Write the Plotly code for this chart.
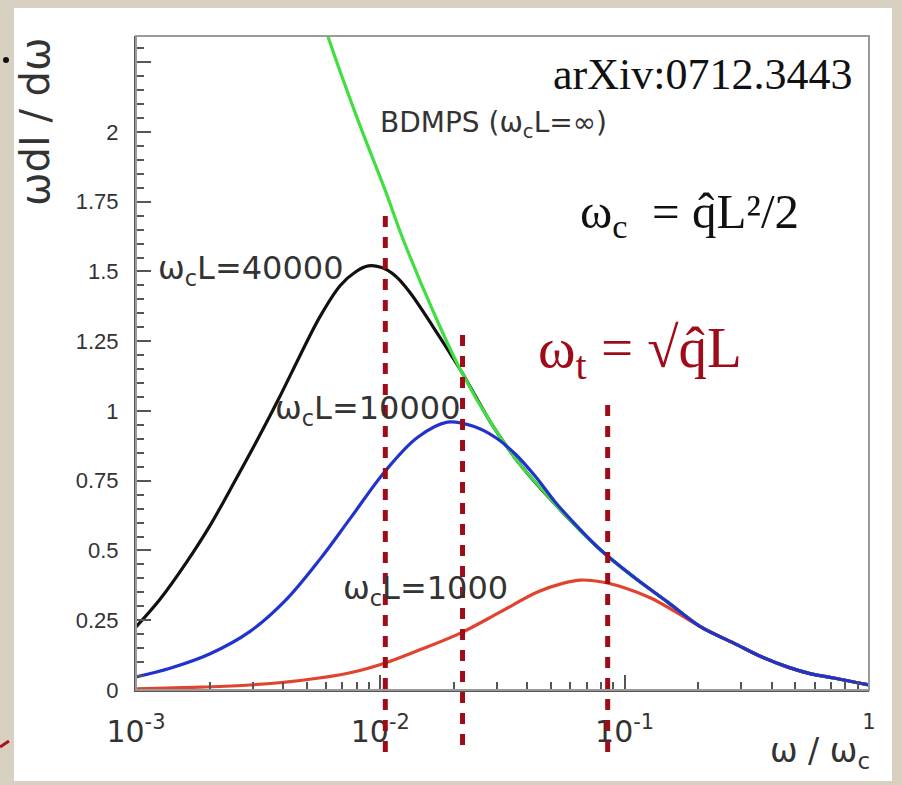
import plotly.graph_objects as go

# ---------------- data: omega/omega_c and omega dI/domega ----------------
x_bdmps = [0.006007, 0.006857, 0.008279, 0.01048, 0.01242, 0.01649, 0.02128, 0.02904,
           0.03748, 0.04525, 0.05465, 0.07973, 0.1089, 0.15, 0.2049, 0.2797, 0.3609,
           0.4656, 0.5785, 0.7188, 1.0]
y_bdmps = [2.36, 2.215, 2.02, 1.79, 1.613, 1.355, 1.147, 0.943,
           0.806, 0.725, 0.645, 0.502, 0.405, 0.315, 0.226, 0.168, 0.12,
           0.082, 0.058, 0.043, 0.018]

x_40000 = [0.001, 0.001254, 0.001588, 0.002011, 0.002544, 0.003131, 0.003819, 0.004699,
           0.005677, 0.006857, 0.007963, 0.008929, 0.01005, 0.01150, 0.01322, 0.01649,
           0.02128, 0.02904, 0.03748, 0.05465, 0.07973, 0.1089, 0.15, 0.2049, 0.2797,
           0.3609, 0.4656, 0.5785, 0.7188, 1.0]
y_40000 = [0.226, 0.325, 0.45, 0.59, 0.75, 0.895, 1.04, 1.20,
           1.34, 1.45, 1.50, 1.52, 1.515, 1.485, 1.425, 1.30,
           1.147, 0.943, 0.806, 0.645, 0.502, 0.405, 0.315, 0.226, 0.168,
           0.12, 0.082, 0.058, 0.043, 0.018]

x_10000 = [0.001, 0.001378, 0.002011, 0.002932, 0.00408, 0.005677, 0.007533, 0.01048,
           0.01418, 0.01881, 0.02405, 0.0296, 0.03575, 0.04316, 0.05214, 0.06297,
           0.07973, 0.1089, 0.15, 0.2049, 0.2797, 0.3609, 0.4656, 0.5785, 0.7188, 1.0]
y_10000 = [0.047, 0.078, 0.13, 0.21, 0.32, 0.47, 0.615, 0.785,
           0.905, 0.96, 0.945, 0.905, 0.845, 0.765, 0.672, 0.593,
           0.502, 0.405, 0.315, 0.226, 0.168, 0.12, 0.082, 0.058, 0.043, 0.018]

x_1000 = [0.001, 0.00183, 0.002932, 0.004699, 0.007533, 0.01048, 0.01459, 0.02128,
          0.03102, 0.04398, 0.05621, 0.06604, 0.07973, 0.101, 0.1278, 0.1618, 0.2049,
          0.2797, 0.3609, 0.4656, 0.5785, 0.7188, 1.0]
y_1000 = [0.004, 0.010, 0.018, 0.034, 0.062, 0.097, 0.145, 0.204,
          0.28, 0.351, 0.383, 0.394, 0.388, 0.365, 0.33, 0.28, 0.226,
          0.168, 0.12, 0.082, 0.058, 0.043, 0.018]

# omega_t markers: position, top and bottom end (in omega dI/domega units)
marker_x = [0.01048, 0.0217, 0.0852]
marker_top = [1.727, 1.29, 1.04]
marker_bottom = [-0.222, -0.197, -0.222]

y_major = [0, 0.25, 0.5, 0.75, 1, 1.25, 1.5, 1.75, 2, 2.25]
y_major_text = ["0", "0.25", "0.5", "0.75", "1", "1.25", "1.5", "1.75", "2", ""]
x_major = [0.001, 0.01, 0.1, 1]
x_major_text = ["10<sup>-3</sup>", "10<sup>-2</sup>", "10<sup>-1</sup>", "<sup>1</sup>"]

Y_MAX = 2.344

# ---------------- layout geometry (pixels) ----------------
W, H = 902, 785
L, R, T, B = 136, 869, 36, 690
PW, PH = R - L, B - T


def px(xpix):
    return (xpix - L) / PW


def py(ypix):
    return (B - ypix) / PH


ROOT_FONT = "DejaVu Sans"
SERIF = "Liberation Serif"
TXT = "#333333"
DARK_RED = "#9e0b19"
NB = "\u00a0"

fig = go.Figure()

curves = [
    (x_40000, y_40000, "#111111", "ω<sub>c</sub>L=40000"),
    (x_bdmps, y_bdmps, "#40de40", "BDMPS"),
    (x_1000, y_1000, "#e0442e", "ω<sub>c</sub>L=1000"),
    (x_10000, y_10000, "#2233cc", "ω<sub>c</sub>L=10000"),
]
for xs, ys, col, name in curves:
    fig.add_trace(go.Scatter(x=xs, y=ys, mode="lines", name=name,
                             line=dict(color=col, width=3.2, shape="spline", smoothing=1.0),
                             showlegend=False, hoverinfo="skip"))

shapes = []
# white slide panel
shapes.append(dict(type="rect", xref="paper", yref="paper", x0=px(14), x1=px(892),
                   y0=py(781), y1=py(8), fillcolor="white", line=dict(width=0),
                   layer="below"))
# frame
shapes.append(dict(type="rect", xref="paper", yref="paper", x0=0, x1=1, y0=0, y1=1,
                   line=dict(color="#9a9a9a", width=2), layer="above"))
# omega_t dashed markers (extend below the axis)
for xv, top, bot in zip(marker_x, marker_top, marker_bottom):
    shapes.append(dict(type="line", xref="x", yref="y domain",
                       x0=xv, x1=xv, y0=bot / Y_MAX, y1=top / Y_MAX,
                       line=dict(color=DARK_RED, width=5, dash="11px,10px"),
                       layer="above"))
# bits of neighbouring slide text at the left edge
shapes.append(dict(type="circle", xref="paper", yref="paper",
                   x0=px(3), x1=px(9), y0=py(63), y1=py(57),
                   fillcolor="#111111", line=dict(width=0)))
shapes.append(dict(type="line", xref="paper", yref="paper",
                   x0=px(0), x1=px(9), y0=py(747), y1=py(741),
                   line=dict(color="#b01020", width=3)))

annotations = [
    dict(text="arXiv:0712.3443", x=px(854), y=py(75), xanchor="right", yanchor="middle",
         font=dict(family=SERIF, size=44, color="#111111")),
    dict(text=f"ω<sub>c</sub>{NB}{NB}={NB}q̂L²/2", x=px(578), y=py(215), xanchor="left",
         yanchor="middle", font=dict(family=SERIF, size=49, color="#111111")),
    dict(text=f"ω<sub>t</sub>{NB}={NB}√q̂L", x=px(536), y=py(352), xanchor="left",
         yanchor="middle", font=dict(family=SERIF, size=57, color=DARK_RED)),
    dict(text="BDMPS (ω<sub>c</sub>L=∞)", x=px(378), y=py(124), xanchor="left",
         yanchor="middle", font=dict(family=ROOT_FONT, size=28, color=TXT)),
    dict(text="ω<sub>c</sub>L=40000", x=px(156), y=py(270), xanchor="left",
         yanchor="middle", font=dict(family=ROOT_FONT, size=32, color=TXT)),
    dict(text="ω<sub>c</sub>L=10000", x=px(273), y=py(410), xanchor="left",
         yanchor="middle", font=dict(family=ROOT_FONT, size=32, color=TXT)),
    dict(text="ω<sub>c</sub>L=1000", x=px(341), y=py(590), xanchor="left",
         yanchor="middle", font=dict(family=ROOT_FONT, size=32, color=TXT)),
    dict(text="ω / ω<sub>c</sub>", x=px(872), y=py(752), xanchor="right",
         yanchor="middle", font=dict(family=ROOT_FONT, size=33, color=TXT)),
    dict(text="ωdI / dω", x=px(35), y=py(122), xanchor="center", yanchor="middle",
         textangle=-90, font=dict(family=ROOT_FONT, size=40, color=TXT)),
]
for a in annotations:
    a.update(xref="paper", yref="paper", showarrow=False)

minor_x = [k * 10 ** e for e in (-3, -2, -1) for k in range(2, 10)]

fig.update_layout(
    width=W, height=H,
    margin=dict(l=L, r=W - R, t=T, b=H - B, pad=0),
    paper_bgcolor="#d8d1c2",
    plot_bgcolor="white",
    shapes=shapes,
    annotations=annotations,
    xaxis=dict(type="log", range=[-3, 0], showgrid=False, zeroline=False,
               showline=True, linecolor="#555555", linewidth=2,
               ticks="inside", ticklen=15, tickwidth=1.5, tickcolor="#555555",
               tickmode="array", tickvals=x_major, ticktext=x_major_text,
               tickfont=dict(family=ROOT_FONT, size=30, color=TXT),
               ticklabelstandoff=14,
               minor=dict(ticks="inside", ticklen=8, tickwidth=1.5,
                          tickcolor="#555555", tickvals=minor_x, showgrid=False)),
    yaxis=dict(range=[0, Y_MAX], showgrid=False, zeroline=False,
               showline=True, linecolor="#555555", linewidth=2,
               ticks="inside", ticklen=15, tickwidth=1.5, tickcolor="#555555",
               tickmode="array", tickvals=y_major, ticktext=y_major_text,
               tickfont=dict(family="Liberation Sans", size=22, color=TXT),
               ticklabelstandoff=11,
               minor=dict(ticks="inside", ticklen=8, tickwidth=1.5,
                          tickcolor="#555555", dtick=0.05, tick0=0, showgrid=False)),
)

fig.write_html("out.html")
